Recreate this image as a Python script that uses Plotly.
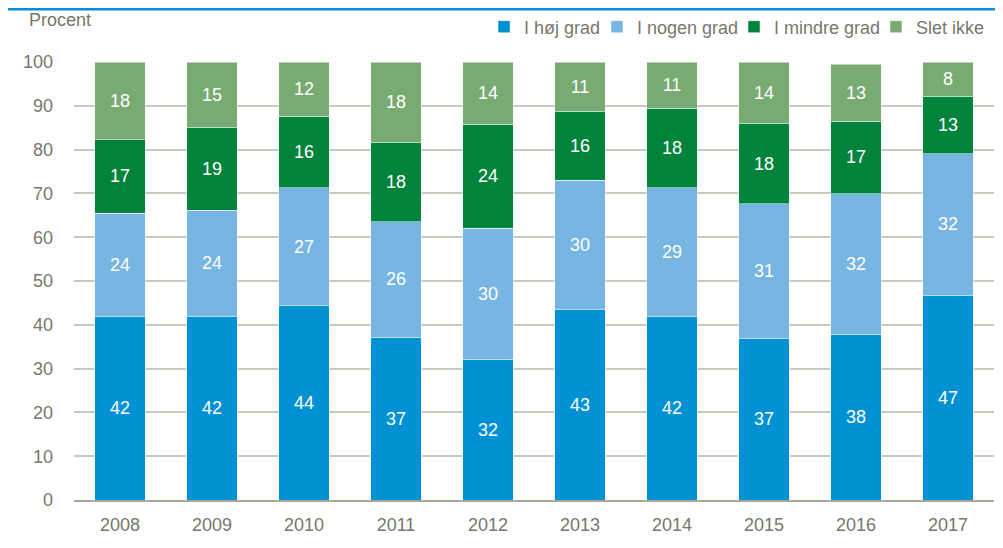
import plotly.graph_objects as go

years = ["2008", "2009", "2010", "2011", "2012", "2013", "2014", "2015", "2016", "2017"]
hoej = [41.9, 41.9, 44.4, 37.2, 32.1, 43.4, 41.9, 36.9, 37.8, 46.7]
nogen = [23.6, 24.3, 26.9, 26.3, 29.9, 29.6, 29.4, 30.7, 32.1, 32.4]
mindre = [16.8, 18.9, 16.3, 18.2, 23.8, 15.7, 18.1, 18.4, 16.6, 13.1]
slet = [17.7, 14.9, 12.4, 18.3, 14.2, 11.3, 10.6, 14.0, 13.0, 7.8]

series = [
    ("I høj grad", hoej, "#0090D4"),
    ("I nogen grad", nogen, "#77B5E3"),
    ("I mindre grad", mindre, "#00843C"),
    ("Slet ikke", slet, "#78AB71"),
]
legend_ids = ["legend", "legend2", "legend3", "legend4"]
legend_x = [0.4457, 0.5685, 0.7174, 0.8717]

FONT = "Liberation Sans, Arial, sans-serif"
GRAY = "#77776B"
FS = 18

fig = go.Figure()
for (name, vals, col), lid in zip(series, legend_ids):
    fig.add_trace(go.Bar(
        x=years, y=vals, name=name, legend=lid,
        marker=dict(color=col, line=dict(color="rgba(255,255,255,0.6)", width=0.8)),
        texttemplate="%{y:.0f}", textposition="inside", insidetextanchor="middle",
        textfont=dict(color="white", size=FS, family=FONT),
        hoverinfo="skip",
    ))

legend_common = dict(orientation="h", xanchor="left", y=1.08, yanchor="middle",
                     font=dict(size=FS, color=GRAY, family=FONT),
                     bgcolor="rgba(0,0,0,0)", borderwidth=0)
legends = {lid: dict(x=lx, **legend_common) for lid, lx in zip(legend_ids, legend_x)}

fig.update_layout(
    barmode="stack",
    bargap=0.446,
    width=1003, height=548,
    margin=dict(l=66, r=17, t=54, b=56, autoexpand=False),
    plot_bgcolor="white", paper_bgcolor="white",
    font=dict(family=FONT, size=FS, color=GRAY),
    showlegend=True,
    xaxis=dict(showgrid=False, showline=True, linecolor="#A8A89A", linewidth=1.5,
               ticks="", tickfont=dict(size=FS, color=GRAY), ticklabelstandoff=8,
               range=[-0.5, 9.5]),
    yaxis=dict(range=[0, 100], dtick=10, tick0=0, showgrid=True, gridcolor="#C8C8BC",
               gridwidth=1.5, zeroline=False, showline=False, ticks="",
               tickfont=dict(size=FS, color=GRAY), ticklabelstandoff=20),
    **legends,
)

fig.add_annotation(text="Procent", xref="paper", yref="paper", x=-0.051, y=1.096,
                   xanchor="left", yanchor="middle", showarrow=False,
                   font=dict(size=FS, color=GRAY, family=FONT))
fig.add_shape(type="line", xref="paper", yref="paper", x0=-0.0717, x1=1.0033,
              y0=1.1204, y1=1.1204, line=dict(color="#0090D4", width=2.5))

fig.write_html("out.html")
